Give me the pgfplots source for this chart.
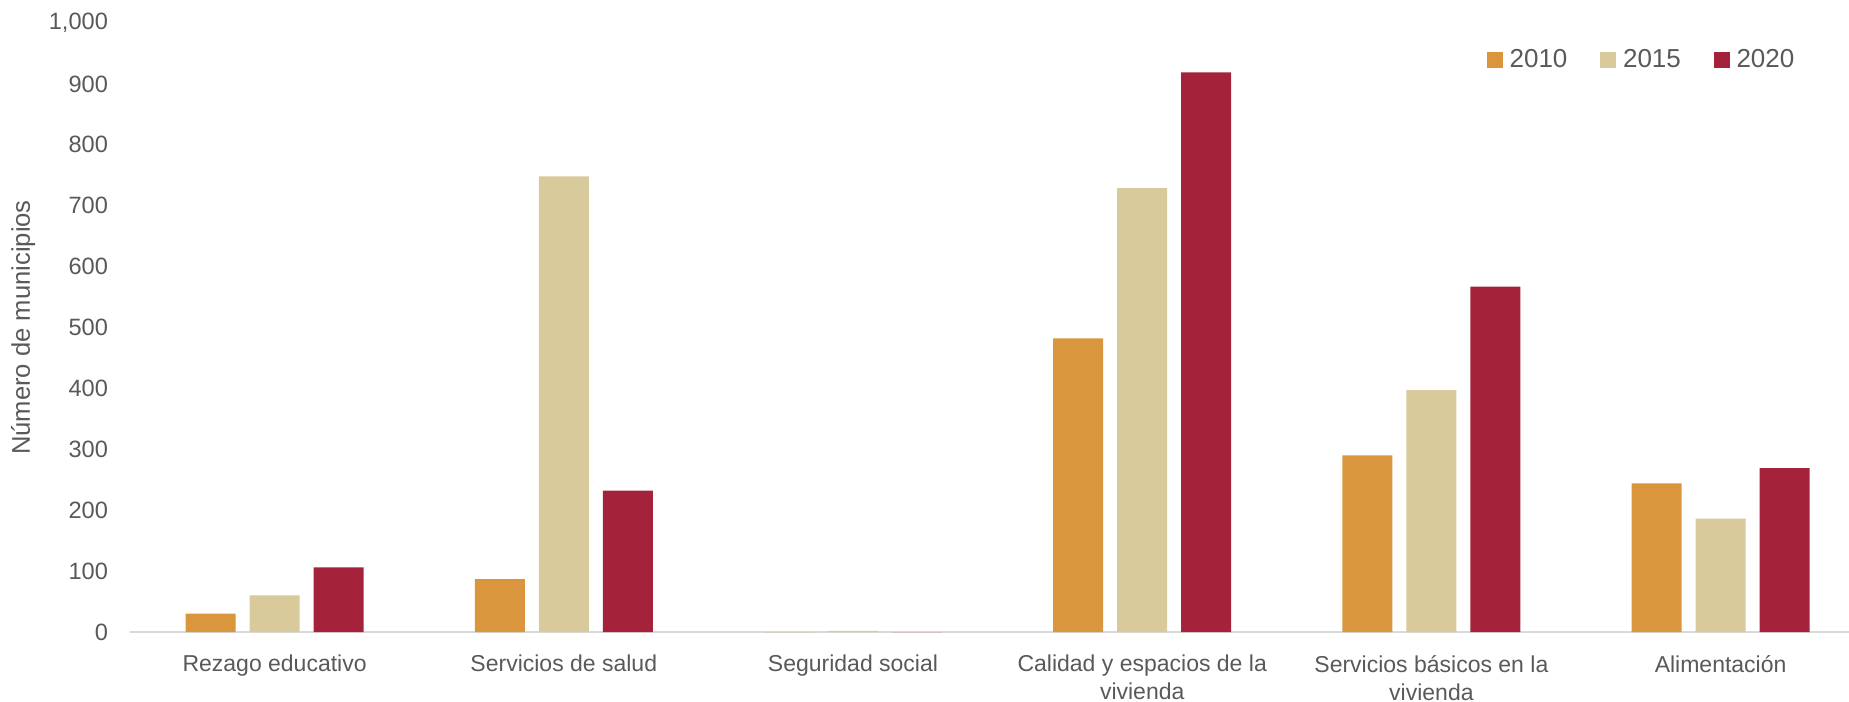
\documentclass[border=0pt]{standalone}
\usepackage{fontspec}
\setmainfont{Liberation Sans}
\usepackage{pgfplots}
\pgfplotsset{compat=1.18}
\definecolor{c2010}{HTML}{D9963D}
\definecolor{c2015}{HTML}{D8CA9A}
\definecolor{c2020}{HTML}{A4233A}
\definecolor{txt}{HTML}{595959}
\definecolor{axgray}{HTML}{D9D9D9}

\begin{document}
\begin{tikzpicture}
\pgfplotsset{sq/.style={legend image code/.code={\fill[##1,draw=none] (0pt,-3.9pt) rectangle (7.8pt,3.9pt);}}}
\begin{axis}[
    scale only axis,
    width=859.5pt,
    height=304.5pt,
    xmin=-0.5, xmax=5.444,
    ymin=0, ymax=1000,
    ytick={0,100,...,1000},
    xtick={0,1,2,3,4,5},
    xticklabels={Rezago educativo,Servicios de salud,Seguridad social,{Calidad y espacios de la\\vivienda},{Servicios básicos en la\\vivienda},Alimentación},
    xticklabel style={align=center, font=\fontsize{11.5}{14}\selectfont, text=txt, yshift=-8pt},
    yticklabel style={font=\fontsize{11.8}{13}\selectfont, text=txt, xshift=-7.5pt},
    /pgf/number format/assume math mode=true,
    /pgf/number format/1000 sep={,},
    major tick length=0pt,
    axis x line*=bottom,
    axis y line*=left,
    y axis line style={draw=none},
    x axis line style={color=axgray, line width=0.75pt},
    ybar=7pt,
    bar width=25pt,
    ylabel={Número de municipios},
    ylabel style={font=\fontsize{12.8}{14}\selectfont, text=txt, at={(axis description cs:-0.0622,0.5)}, anchor=center},
    legend columns=-1,
    legend style={draw=none, fill=none, at={(axis description cs:0.9725,0.939)}, anchor=east, inner sep=0pt,
        font=\fontsize{13}{14}\selectfont, text=txt,
        /tikz/every even column/.append style={column sep=13pt},
        nodes={inner sep=3.5pt}},
    clip=false,
]
\addplot[fill=c2010, draw=none, sq] coordinates {(0,30) (1,87) (2,0) (3,482) (4,290) (5,244)};
\addlegendentry{2010}
\addplot[fill=c2015, draw=none, sq] coordinates {(0,60) (1,748) (2,2) (3,729) (4,397) (5,186)};
\addlegendentry{2015}
\addplot[fill=c2020, draw=none, sq] coordinates {(0,106) (1,232) (2,0) (3,919) (4,567) (5,269)};
\addlegendentry{2020}
\end{axis}
\pgfresetboundingbox
\path[use as bounding box] (-65pt,-35pt) rectangle (859.5pt,316pt);
\end{tikzpicture}
\end{document}
